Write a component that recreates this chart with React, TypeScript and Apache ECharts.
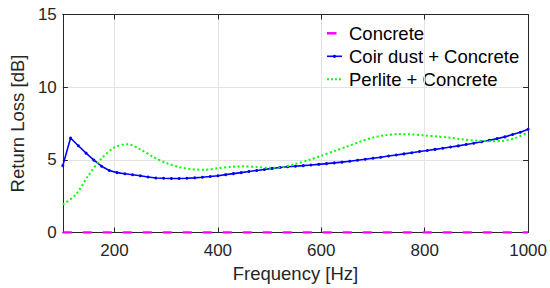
import React, { useEffect, useRef } from "react";
import * as echarts from "echarts";

const concreteFreq = [100, 1000];
const concreteVals = [0, 0];

const coirFreq = [
  100, 115, 130, 145, 160, 175, 190, 205, 220, 235, 250, 265, 280, 295, 310, 325, 340, 355, 370, 385,
  400, 415, 430, 445, 460, 475, 490, 505, 520, 535, 550, 565, 580, 595, 610, 625, 640, 655, 670, 685,
  700, 715, 730, 745, 760, 775, 790, 805, 820, 835, 850, 865, 880, 895, 910, 925, 940, 955, 970, 985, 1000,
];
const coirVals = [
  4.6, 6.5, 5.97, 5.46, 4.98, 4.56, 4.27, 4.12, 4.04, 3.97, 3.9, 3.82, 3.75, 3.73, 3.72, 3.72, 3.73, 3.76, 3.8, 3.85,
  3.91, 3.98, 4.05, 4.12, 4.2, 4.27, 4.34, 4.41, 4.47, 4.52, 4.56, 4.6, 4.64, 4.69, 4.74, 4.79, 4.84, 4.9, 4.97, 5.04,
  5.11, 5.18, 5.26, 5.33, 5.41, 5.49, 5.57, 5.64, 5.72, 5.8, 5.88, 5.96, 6.05, 6.14, 6.24, 6.35, 6.46, 6.58, 6.74, 6.9, 7.1,
];

const perliteFreq = [
  100, 125, 150, 175, 200, 225, 250, 275, 300, 325, 350, 375, 400, 425, 450, 475, 500, 525, 550,
  575, 600, 625, 650, 675, 700, 725, 750, 775, 800, 825, 850, 875, 900, 925, 950, 975, 1000,
];
const perliteVals = [
  1.92, 2.6, 3.95, 5.1, 5.85, 6.08, 5.72, 5.2, 4.78, 4.5, 4.35, 4.32, 4.42, 4.52, 4.55, 4.5, 4.45, 4.5, 4.72,
  4.98, 5.28, 5.6, 5.92, 6.25, 6.53, 6.7, 6.77, 6.75, 6.68, 6.6, 6.52, 6.4, 6.32, 6.28, 6.3, 6.5, 6.88,
];

const yTicks = [0, 5, 10, 15];
const seriesNames = ["Concrete", "Coir dust + Concrete", "Perlite + Concrete"];

const zip = (xs: number[], ys: number[]) => xs.map((x, i) => [x, ys[i]]);

const AXIS_COLOR = "#262626";
const FONT = "Liberation Sans, Arial, sans-serif";

export default function App() {
  const ref = useRef<HTMLDivElement>(null);
  useEffect(() => {
    document.body.style.margin = "0";
    if (!ref.current) return;
    const chart = echarts.init(ref.current, undefined, { renderer: "svg" });
    const common = {
      min: 100,
      max: 1000,
      splitNumber: 5,
    };
    const rowY = [33.3, 56.3, 79.3];
    const iconX = 327;
    const textX = 349;
    const legendGraphics: any[] = [
      {
        type: "line",
        shape: { x1: iconX, y1: rowY[0], x2: iconX + 9.5, y2: rowY[0] },
        style: { stroke: "#ff00ff", lineWidth: 2.5 },
      },
      {
        type: "line",
        shape: { x1: iconX, y1: rowY[1], x2: iconX + 15, y2: rowY[1] },
        style: { stroke: "#0000ff", lineWidth: 1.6 },
      },
      {
        type: "circle",
        shape: { cx: iconX + 7.5, cy: rowY[1], r: 1.6 },
        style: { fill: "#0000ff" },
      },
      {
        type: "line",
        shape: { x1: iconX, y1: rowY[2], x2: iconX + 15, y2: rowY[2] },
        style: { stroke: "#00ff00", lineWidth: 2, lineDash: [2, 2] },
      },
      ...seriesNames.map((n, i) => ({
        type: "text",
        x: textX,
        y: rowY[i],
        style: {
          text: n,
          fill: "#000000",
          font: `18.5px ${FONT}`,
          textVerticalAlign: "middle",
          verticalAlign: "middle",
        },
      })),
    ];
    chart.setOption({
      animation: false,
      backgroundColor: "#ffffff",
      textStyle: { fontFamily: FONT },
      grid: { left: 60.7, right: 21.5, top: 14.5, bottom: 55.5, show: false },
      graphic: legendGraphics,
      xAxis: [
        {
          type: "value",
          ...common,
          name: "Frequency [Hz]",
          nameLocation: "middle",
          nameGap: 31,
          nameTextStyle: { fontSize: 18.5, color: AXIS_COLOR, fontFamily: FONT },
          axisLine: { show: true, onZero: false, lineStyle: { color: AXIS_COLOR, width: 1 } },
          axisTick: { show: true, inside: true, length: 5, lineStyle: { color: AXIS_COLOR } },
          axisLabel: {
            fontSize: 17,
            color: AXIS_COLOR,
            margin: 9,
            showMinLabel: false,
            fontFamily: FONT,
            formatter: (v: number) => String(v),
          },
          splitLine: { show: true, lineStyle: { color: "#e3e3e3", width: 1 } },
        },
        {
          type: "value",
          ...common,
          position: "top",
          axisLine: { show: true, onZero: false, lineStyle: { color: AXIS_COLOR, width: 1 } },
          axisTick: { show: true, inside: true, length: 5, lineStyle: { color: AXIS_COLOR } },
          axisLabel: { show: false },
          splitLine: { show: false },
        },
      ],
      yAxis: [
        {
          type: "value",
          min: yTicks[0],
          max: yTicks[yTicks.length - 1],
          interval: 5,
          name: "Return Loss [dB]",
          nameLocation: "middle",
          nameGap: 28,
          nameTextStyle: { fontSize: 18.5, color: AXIS_COLOR, fontFamily: FONT },
          axisLine: { show: true, onZero: false, lineStyle: { color: AXIS_COLOR, width: 1 } },
          axisTick: { show: true, inside: true, length: 5, lineStyle: { color: AXIS_COLOR } },
          axisLabel: { fontSize: 17, color: AXIS_COLOR, margin: 6, fontFamily: FONT },
          splitLine: { show: true, lineStyle: { color: "#e3e3e3", width: 1 } },
        },
        {
          type: "value",
          min: yTicks[0],
          max: yTicks[yTicks.length - 1],
          interval: 5,
          position: "right",
          axisLine: { show: true, onZero: false, lineStyle: { color: AXIS_COLOR, width: 1 } },
          axisTick: { show: true, inside: true, length: 5, lineStyle: { color: AXIS_COLOR } },
          axisLabel: { show: false },
          splitLine: { show: false },
        },
      ],
      series: [
        {
          name: seriesNames[0],
          type: "line",
          data: zip(concreteFreq, concreteVals),
          symbol: "none",
          color: "#ff00ff",
          lineStyle: { color: "#ff00ff", width: 2.5, type: [9, 11] },
          z: 5,
        },
        {
          name: seriesNames[1],
          type: "line",
          data: zip(coirFreq, coirVals),
          symbol: "circle",
          symbolSize: 3,
          color: "#0000ff",
          itemStyle: { color: "#0000ff" },
          lineStyle: { color: "#0000ff", width: 1.6 },
          z: 3,
        },
        {
          name: seriesNames[2],
          type: "line",
          data: zip(perliteFreq, perliteVals),
          symbol: "none",
          smooth: 0.3,
          color: "#00ff00",
          lineStyle: { color: "#00ff00", width: 2, type: [2, 2.5] },
          z: 4,
        },
      ],
    });
    return () => chart.dispose();
  }, []);
  return <div ref={ref} style={{ width: 550, height: 288 }} />;
}
